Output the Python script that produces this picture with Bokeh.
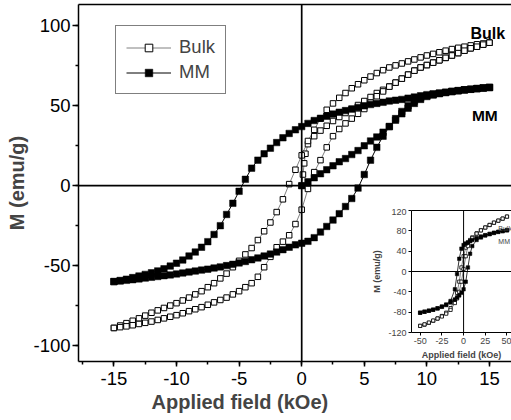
from bokeh.plotting import figure
from bokeh.models import (Range1d, SingleIntervalTicker, FixedTicker, Span, Legend, LegendItem, Title,
                          LinearAxis, CustomJSTickFormatter)
from bokeh.layouts import column
from bokeh.core.properties import value
from bokeh.embed import file_html
from bokeh.resources import INLINE

FONT = "Liberation Sans"

# ---------------- main panel data (field in kOe, M in emu/g) ----------------
H_VIRGIN_BULK = [0, 0.1, 0.2, 0.3, 0.5, 1, 1.5, 2, 2.5, 3, 3.5, 4, 4.5, 5, 5.5, 6, 6.5, 7, 7.5, 8,
                 8.5, 9, 9.5, 10, 10.5, 11, 11.5, 12, 12.5, 13, 13.5, 14, 14.5, 15]
M_VIRGIN_BULK = [0, 7, 14, 20, 26, 31, 34.5, 37.5, 40.5, 43, 45.5, 48, 50.5, 53, 55.5, 58, 60, 62, 64.5, 67,
                 69.5, 72, 74, 75.5, 77, 78.5, 80, 81.5, 83, 84.5, 86, 87, 88.3, 89.5]

H_DOWN = [15, 14.5, 14, 13.5, 13, 12.5, 12, 11.5, 11, 10.5, 10, 9.5, 9, 8.5, 8, 7.5, 7, 6.5, 6, 5.5,
          5, 4.5, 4, 3.5, 3, 2.5, 2, 1.5, 1, 0.5, 0, -0.5, -1, -1.5, -2, -2.5, -3, -3.5, -4, -4.5,
          -5, -5.5, -6, -6.5, -7, -7.5, -8, -8.5, -9, -9.5, -10, -10.5, -11, -11.5, -12, -12.5, -13, -13.5, -14, -14.5, -15]
H_UP = [-15, -14.5, -14, -13.5, -13, -12.5, -12, -11.5, -11, -10.5, -10, -9.5, -9, -8.5, -8, -7.5, -7, -6.5, -6, -5.5,
        -5, -4.5, -4, -3.5, -3, -2.5, -2, -1.5, -1, -0.5, 0, 0.5, 1, 1.5, 2, 2.5, 3, 3.5, 4, 4.5,
        5, 5.5, 6, 6.5, 7, 7.5, 8, 8.5, 9, 9.5, 10, 10.5, 11, 11.5, 12, 12.5, 13, 13.5, 14, 14.5, 15]

M_DOWN_BULK = [89.5, 89, 88.5, 87.8, 87, 86.3, 85.5, 84.5, 83.5, 82.5, 81.5, 80.3, 79, 77.8, 76.5, 75.3, 74, 72.3, 70.5, 68.3,
               66, 63.5, 61, 58, 55, 51.5, 47.5, 42, 35, 28, 19, 10, 1, -8.5, -16.5, -23, -28.5, -34, -39, -43,
               -47, -51, -55, -58, -61, -63.5, -66, -68, -70, -71.8, -73.5, -75, -76.5, -78, -79.5, -81.3, -83, -84.5, -86, -87.5, -89]
M_UP_BULK = [-89, -88.5, -88, -87.3, -86.5, -85.8, -85, -84, -83, -82, -81, -79.8, -78.5, -77.3, -76, -74.5, -73, -71.5, -70, -68,
             -66, -63.5, -61, -57, -51, -44.5, -38.5, -35, -31, -24, -15, -2, 8.5, 16, 24, 31, 35.5, 39, 42, 45,
             48, 52, 56, 59, 62, 64.5, 67, 69.5, 72, 74, 75.5, 77, 78.5, 80, 81.5, 83, 84.5, 86, 87, 88.3, 89.5]

H_VIRGIN_MM = [0, 0.5, 1, 1.5, 2, 2.5, 3, 3.5, 4, 4.5, 5, 5.5, 6, 6.5, 7, 7.5, 8, 8.5, 9, 9.5,
               10, 10.5, 11, 11.5, 12, 12.5, 13, 13.5, 14, 14.5, 15]
M_VIRGIN_MM = [0, 2.5, 5, 7.5, 10, 12.5, 15, 17, 19.5, 22, 25, 28, 30.5, 33.5, 37, 41, 45, 48.5, 51.5, 54,
               55.8, 56.8, 57.6, 58.3, 58.9, 59.4, 59.9, 60.3, 60.7, 61.1, 61.5]
M_DOWN_MM = [61.5, 61.2, 60.8, 60.4, 60, 59.5, 59, 58.5, 58, 57.5, 57, 56.3, 55.5, 54.8, 54, 53.5, 53, 52.2, 51.5, 50.8,
             50, 49, 48, 47, 46, 44.8, 43.5, 42.2, 40.8, 39, 37, 35, 32.7, 30, 27, 23.5, 20, 16, 11, 4,
             -3.5, -11, -18, -25, -30.5, -35, -38.5, -41.5, -44, -46.5, -48.5, -50.3, -52, -53.3, -54.5, -55.5, -56.5, -57.5, -58.5, -59.3, -60]
M_UP_MM = [-60, -59.6, -59.2, -58.8, -58.3, -57.8, -57.3, -56.8, -56.3, -55.8, -55.2, -54.6, -54, -53.4, -52.8, -52.2, -51.5, -50.8, -50, -49.2,
           -48.3, -47.4, -46.3, -45.2, -44, -42.8, -41.5, -40, -38.5, -37, -36, -34.8, -32.5, -29, -25.5, -21.5, -17.5, -13, -8, -1.5,
           7, 16, 24, 31, 37, 42, 46.5, 50, 53, 55, 56.3, 57, 57.8, 58.4, 59, 59.5, 60, 60.4, 60.8, 61.2, 61.5]

# ---------------- inset data (wide field range) ----------------
IH_DOWN = [50, 45, 40, 35, 30, 25, 20, 15, 10, 7.5, 5, 2.5, 0, -2.5, -5, -7.5, -10, -15, -20, -25, -30, -35, -40, -45, -50]
IH_UP = [-50, -45, -40, -35, -30, -25, -20, -15, -10, -7.5, -5, -2.5, 0, 2.5, 5, 7.5, 10, 15, 20, 25, 30, 35, 40, 45, 50]
IM_DOWN_BULK = [108, 104, 100, 96, 91.5, 86.5, 81, 75, 67, 62, 56, 47, 30, 8, -20, -42, -56, -72, -81, -87.5, -92.5, -97, -101, -104.5, -107]
IM_UP_BULK = [-107, -104, -100.5, -96.5, -92.5, -88.5, -83, -75.5, -62, -53, -40, -20, 5, 30, 50, 60, 66, 74.5, 81, 86.5, 91.5, 96, 100, 104, 108]
IM_DOWN_MM = [81, 79.5, 78, 76, 74, 71.5, 69, 66, 62, 60, 57.5, 55, 52, 45, 25, -5, -35, -58, -65, -69, -72.5, -75, -77, -79, -81]
IM_UP_MM = [-81, -79, -77, -75, -72.6, -69.5, -66, -61, -55, -51, -47, -42, -35, -20, 8, 35, 50, 62, 67, 71, 73.5, 76, 78, 79.5, 81]

Y_TICKS_INSET = [-120, -80, -40, 0, 40, 80, 120]
X_TICKS_INSET = [-50, -25, 0, 25, 50]

bulk_h = H_VIRGIN_BULK + H_DOWN + H_UP
bulk_m = M_VIRGIN_BULK + M_DOWN_BULK + M_UP_BULK
mm_h = H_VIRGIN_MM + H_DOWN + H_UP
mm_m = M_VIRGIN_MM + M_DOWN_MM + M_UP_MM

hyphen_fmt = "return tick.toString();"

# ---------------- main figure ----------------
p = figure(width=511, height=420, x_range=Range1d(-17.83, 16.76), y_range=Range1d(-110, 113.4),
           output_backend="svg", toolbar_location=None,
           min_border_left=78, min_border_right=0, min_border_top=4, min_border_bottom=59)
p.outline_line_color = None
p.grid.visible = False
p.background_fill_color = "white"

p.xaxis.ticker = SingleIntervalTicker(interval=5, num_minor_ticks=2)
p.yaxis.ticker = SingleIntervalTicker(interval=50, num_minor_ticks=2)
for ax in (p.xaxis[0], p.yaxis[0]):
    ax.formatter = CustomJSTickFormatter(code=hyphen_fmt)
    ax.axis_line_width = 1.5
    ax.axis_line_color = "black"
    ax.major_tick_line_width = 1.5
    ax.minor_tick_line_width = 1.5
    ax.major_tick_in = 0
    ax.minor_tick_in = 0
    ax.major_tick_out = 6
    ax.minor_tick_out = 3
    ax.major_label_text_font = FONT
    ax.major_label_text_font_size = "18.5px"
    ax.major_label_text_color = "black"
p.xaxis.major_tick_out = 5
p.xaxis.major_label_standoff = 5
p.yaxis.major_label_standoff = 2
p.yaxis.axis_label = "M (emu/g)"
p.yaxis.axis_label_text_font = FONT
p.yaxis.axis_label_text_font_size = "20px"
p.yaxis.axis_label_text_font_style = "bold"
p.yaxis.axis_label_standoff = 2

top_ax = LinearAxis(ticker=FixedTicker(ticks=[]), axis_line_width=1.5, major_label_text_font_size="0px")
p.add_layout(top_ax, "above")

xt = Title(text="Applied field (kOe)", align="left", offset=73, text_font=FONT,
           text_font_size="20px", text_font_style="bold", standoff=2)
p.add_layout(xt, "below")

p.add_layout(Span(location=0, dimension="width", line_color="black", line_width=1.7))
p.add_layout(Span(location=0, dimension="height", line_color="black", line_width=1.7))

bl = p.line(bulk_h, bulk_m, line_color="#808080", line_width=1)
bs = p.scatter(bulk_h, bulk_m, marker="square", size=5.5, fill_color="white", line_color="black", line_width=1)
ml = p.line(mm_h, mm_m, line_color="black", line_width=1)
ms = p.scatter(mm_h, mm_m, marker="square", size=6.5, fill_color="black", line_color="black", line_width=0.5)

p.text(x=[13.48], y=[95.2], text=["Bulk"], text_font=value(FONT), text_font_size="16px",
       text_font_style="bold", text_baseline="alphabetic", text_align="left", text_color="black")
p.text(x=[13.6], y=[43.9], text=["MM"], text_font=value(FONT), text_font_size="15.5px",
       text_font_style="bold", text_baseline="alphabetic", text_align="left", text_color="black")

legend = Legend(items=[LegendItem(label="Bulk", renderers=[bl, bs]), LegendItem(label="MM", renderers=[ml, ms])],
                location=(37, 267), border_line_color="black", border_line_width=1, background_fill_color="white",
                background_fill_alpha=1, label_text_font=FONT, label_text_font_size="18.5px", padding=10,
                glyph_width=45, glyph_height=19, label_height=19, spacing=3, label_standoff=8, margin=0)
p.add_layout(legend)

# ---------------- inset figure ----------------
ins = figure(width=178, height=156, x_range=Range1d(-60, 55.2), y_range=Range1d(-120, 120),
             output_backend="svg", toolbar_location=None,
             min_border_left=34, min_border_right=0, min_border_top=2, min_border_bottom=32,
             background_fill_color="white", border_fill_color=None, outline_line_color=None,
             margin=(-212, 0, 0, 333))
ins.grid.visible = False
ins.xaxis.ticker = FixedTicker(ticks=X_TICKS_INSET)
ins.yaxis.ticker = FixedTicker(ticks=Y_TICKS_INSET)
for ax in (ins.xaxis[0], ins.yaxis[0]):
    ax.formatter = CustomJSTickFormatter(code=hyphen_fmt)
    ax.axis_line_width = 1
    ax.axis_line_color = "black"
    ax.major_tick_in = 0
    ax.major_tick_out = 3
    ax.minor_tick_out = 0
    ax.minor_tick_in = 0
    ax.major_label_text_font = FONT
    ax.major_label_text_font_size = "9px"
    ax.major_label_standoff = 2
    ax.axis_label_text_font = FONT
    ax.axis_label_text_font_size = "9px"
    ax.axis_label_text_font_style = "bold"
    ax.axis_label_standoff = 3
ins.xaxis.axis_label = "Applied field (kOe)"
ins.yaxis.axis_label = "M (emu/g)"
ins.add_layout(LinearAxis(ticker=FixedTicker(ticks=[]), axis_line_width=1, major_label_text_font_size="0px"), "above")
ins.add_layout(Span(location=0, dimension="width", line_color="black", line_width=1))
ins.add_layout(Span(location=0, dimension="height", line_color="black", line_width=1))

ib_h = IH_DOWN + IH_UP
ib_m = IM_DOWN_BULK + IM_UP_BULK
im_m = IM_DOWN_MM + IM_UP_MM
ins.line(ib_h, ib_m, line_color="#606060", line_width=0.8)
ins.scatter(ib_h, ib_m, marker="square", size=3.2, fill_color="white", line_color="black", line_width=0.8)
ins.line(ib_h, im_m, line_color="black", line_width=0.8)
ins.scatter(ib_h, im_m, marker="square", size=3.5, fill_color="black", line_color="black", line_width=0.5)
ins.text(x=[40], y=[84], text=["Bulk"], text_font=value(FONT), text_font_size="7px",
         text_baseline="alphabetic", text_align="left", text_color="#444444")
ins.text(x=[40], y=[60], text=["MM"], text_font=value(FONT), text_font_size="7px",
         text_baseline="alphabetic", text_align="left", text_color="#444444")

layout = column(p, ins, spacing=0)
open("out.html", "w").write(file_html(layout, INLINE))
